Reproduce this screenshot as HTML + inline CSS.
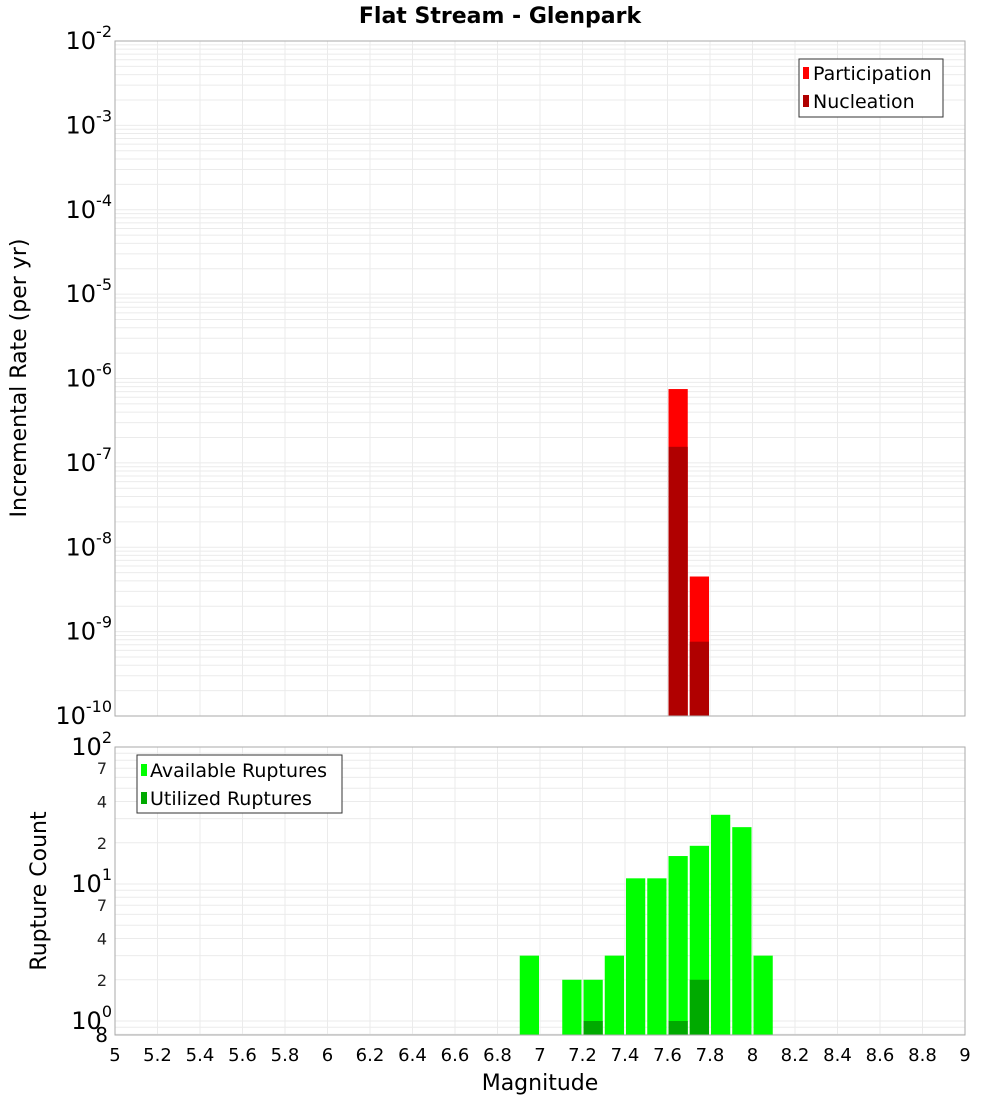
<!DOCTYPE html>
<html><head><meta charset="utf-8"><style>
body{margin:0;background:#fff;font-family:"DejaVu Sans","Liberation Sans",sans-serif}
svg text{font-family:"DejaVu Sans","Liberation Sans",sans-serif}
</style></head><body>
<svg id="chart" width="1000" height="1100" xmlns="http://www.w3.org/2000/svg">
<text x="500" y="23" text-anchor="middle" font-size="22" font-weight="bold">Flat Stream - Glenpark</text>
<g id="topPlot"></g>
<g id="botPlot"></g>
<text transform="translate(26,378) rotate(-90)" text-anchor="middle" font-size="22">Incremental Rate (per yr)</text>
<text transform="translate(46,891) rotate(-90)" text-anchor="middle" font-size="22">Rupture Count</text>
<text x="540" y="1090" text-anchor="middle" font-size="22">Magnitude</text>
<g id="legends">
<g>
<rect x="799" y="59" width="144" height="58" fill="#fff" stroke="#333"/>
<rect x="803" y="67" width="6" height="12" fill="#ff0000"/><text x="813" y="80" font-size="19">Participation</text>
<rect x="803" y="95" width="6" height="12" fill="#b00000"/><text x="813" y="108" font-size="19">Nucleation</text>
</g>
<g>
<rect x="137" y="755" width="205" height="58" fill="#fff" stroke="#333"/>
<rect x="141" y="764" width="6" height="12" fill="#00ff00"/><text x="150" y="777" font-size="19">Available Ruptures</text>
<rect x="141" y="792" width="6" height="12" fill="#00aa00"/><text x="150" y="805" font-size="19">Utilized Ruptures</text>
</g>
</g>
</svg>
<script>
const rateMags=[7.65,7.75];
const participation=[7.5e-7,4.5e-9];
const nucleation=[1.55e-7,7.6e-10];
const countMags=[6.95,7.15,7.25,7.35,7.45,7.55,7.65,7.75,7.85,7.95,8.05];
const available=[3,2,2,3,11,11,16,19,32,26,3];
const utilized=[0,0,1,0,0,0,1,2,0,0,0];
const xTicks=["5","5.2","5.4","5.6","5.8","6","6.2","6.4","6.6","6.8","7","7.2","7.4","7.6","7.8","8","8.2","8.4","8.6","8.8","9"];
const NS="http://www.w3.org/2000/svg";
const X0=115,X1=965;
const xs=m=>X0+(m-5)/4*(X1-X0);
const T0=41,T1=716;
const yt=v=>T0+(-2-Math.log10(v))*(T1-T0)/8;
const B0=747,B1=1035;
const yb=v=>B0+(2-Math.log10(v))*137;
function mk(p,tag,a){const e=document.createElementNS(NS,tag);for(const k in a)e.setAttribute(k,a[k]);p.appendChild(e);return e;}
const topG=document.getElementById('topPlot'),botG=document.getElementById('botPlot');
function frame(g,y0,y1){
 mk(g,'rect',{x:X0,y:y0,width:X1-X0,height:y1-y0,fill:'#fff',stroke:'none'});
 for(let i=0;i<xTicks.length;i++){const x=xs(+xTicks[i]);mk(g,'line',{x1:x,x2:x,y1:y0,y2:y1,stroke:'#ebebeb'});}
}
frame(topG,T0,T1);frame(botG,B0,B1);
for(let d=-10;d<-2;d++)for(let k=1;k<10;k++){const y=yt(k*Math.pow(10,d));mk(topG,'line',{x1:X0,x2:X1,y1:y,y2:y,stroke:'#ebebeb'});}
for(let d=-1;d<2;d++)for(let k=1;k<10;k++){const y=yb(k*Math.pow(10,d));if(y>B1||y<B0)continue;mk(botG,'line',{x1:X0,x2:X1,y1:y,y2:y,stroke:'#ebebeb'});}
for(let i=0;i<rateMags.length;i++){
 const x=xs(rateMags[i]-0.05)+1,w=xs(rateMags[i]+0.05)-xs(rateMags[i]-0.05)-2;
 let r=mk(topG,'rect',{x:x,y:yt(participation[i]),width:w,height:T1-yt(participation[i]),fill:'#ff0000'});
 
 
 r=mk(topG,'rect',{x:x,y:yt(nucleation[i]),width:w,height:T1-yt(nucleation[i]),fill:'#b00000'});
 
 
}
for(let i=0;i<countMags.length;i++){
 const x=xs(countMags[i]-0.05)+1,w=xs(countMags[i]+0.05)-xs(countMags[i]-0.05)-2;
 let r=mk(botG,'rect',{x:x,y:yb(available[i]),width:w,height:B1-yb(available[i]),fill:'#00ff00'});
 
 
 if(utilized[i]>0){r=mk(botG,'rect',{x:x,y:yb(utilized[i]),width:w,height:B1-yb(utilized[i]),fill:'#00aa00'});
 
 }
}
mk(topG,'rect',{x:X0,y:T0,width:X1-X0,height:T1-T0,fill:'none',stroke:'#aaa'});
mk(botG,'rect',{x:X0,y:B0,width:X1-X0,height:B1-B0,fill:'none',stroke:'#aaa'});
for(let d=-10;d<=-2;d++){
 const y=yt(Math.pow(10,d));
 const t=mk(topG,'text',{x:X0-3,y:y+8,'text-anchor':'end','font-size':24});
 
 
 t.innerHTML='10<tspan dy="-12" font-size="16">'+d+'</tspan>';
}
for(let d=0;d<=2;d++){
 const y=yb(Math.pow(10,d));
 const t=mk(botG,'text',{x:X0-3,y:y+8,'text-anchor':'end','font-size':24});
 
 
 t.innerHTML='10<tspan dy="-12" font-size="16">'+d+'</tspan>';
 if(d<2)for(const k of [2,4,7]){const yy=yb(k*Math.pow(10,d));const s=mk(botG,'text',{x:X0-8,y:yy+6,'text-anchor':'end','font-size':16,fill:'#222'});s.textContent=k;}
}
{const s=mk(botG,'text',{x:108,y:1042,'text-anchor':'end','font-size':20});s.textContent='8';}
for(const t of xTicks){const e=mk(botG,'text',{x:xs(+t),y:1061,'text-anchor':'middle','font-size':18});
 
 
 e.textContent=t;}
</script>
</body></html>
